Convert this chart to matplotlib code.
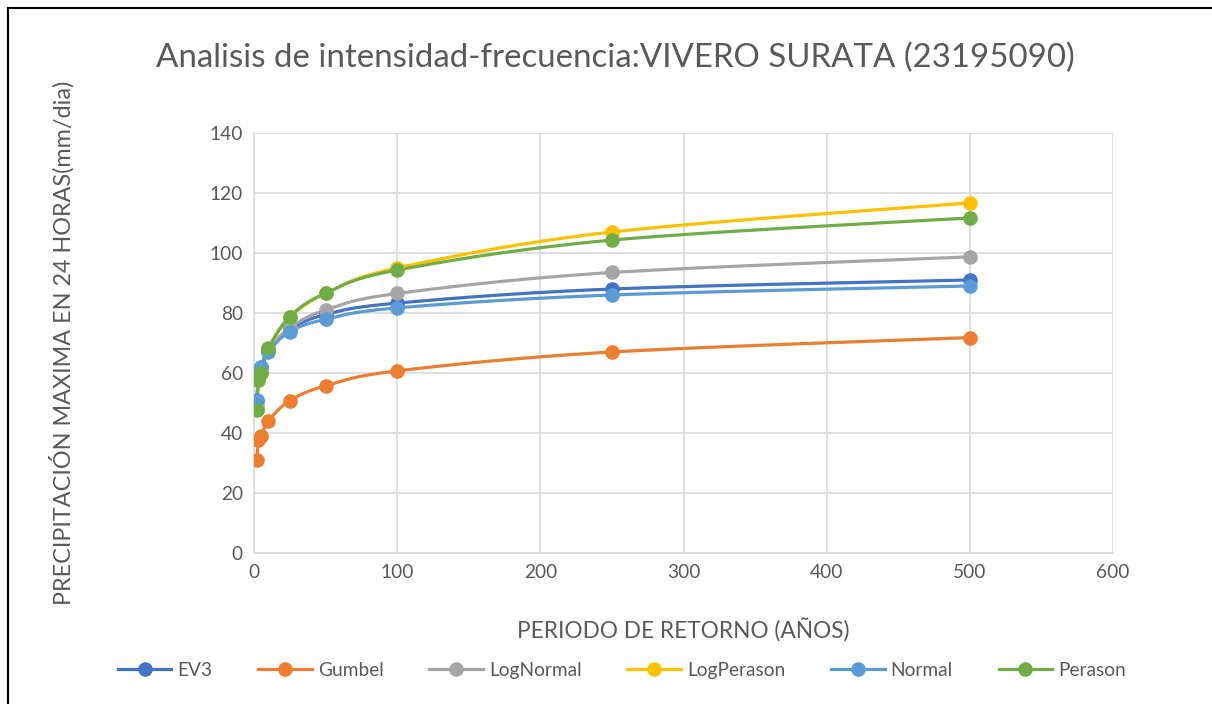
import numpy as np
import matplotlib
matplotlib.use('Agg')
import matplotlib.pyplot as plt
from matplotlib.lines import Line2D

plt.rcParams['font.family'] = ['Lato', 'DejaVu Sans']

# periodos de retorno (años)
T = [2, 3, 5, 10, 25, 50, 100, 250, 500]

ev3 = [50.5, 58.5, 62.0, 67.5, 74.5, 79.5, 83.3, 88.0, 91.0]
gumbel = [31.0, 37.5, 39.0, 44.0, 50.8, 55.7, 60.7, 67.0, 71.8]
lognormal = [49.0, 57.5, 60.0, 67.5, 75.0, 81.0, 86.5, 93.5, 98.7]
logperason = [48.0, 57.5, 60.0, 68.0, 78.5, 86.5, 95.0, 107.0, 116.7]
normal = [51.0, 59.0, 61.9, 67.0, 73.8, 77.9, 81.7, 86.0, 89.0]
perason = [47.7, 57.5, 60.0, 68.2, 78.8, 86.6, 94.3, 104.3, 111.7]

series = [('EV3', ev3, '#4472C4'), ('Gumbel', gumbel, '#ED7D31'),
          ('LogNormal', lognormal, '#A5A5A5'), ('LogPerason', logperason, '#FFC000'),
          ('Normal', normal, '#5B9BD5'), ('Perason', perason, '#70AD47')]


def suavizar(x, y, n=30):
    # curva tipo Excel (catmull-rom) en coordenadas normalizadas
    sx, sy = 600.0 / 859.0, 140.0 / 420.0
    px = np.asarray(x, float) / sx
    py = np.asarray(y, float) / sy
    P = np.column_stack([px, py])
    P = np.vstack([P[0], P, P[-1]])
    out = []
    t = np.linspace(0, 1, n)
    for i in range(1, len(P) - 2):
        p0, p1, p2, p3 = P[i - 1], P[i], P[i + 1], P[i + 2]
        c1 = p1 + (p2 - p0) / 6
        c2 = p2 - (p3 - p1) / 6
        seg = ((1 - t) ** 3)[:, None] * p1 + (3 * (1 - t) ** 2 * t)[:, None] * c1 \
            + (3 * (1 - t) * t ** 2)[:, None] * c2 + (t ** 3)[:, None] * p2
        out.append(seg)
    out = np.vstack(out)
    return out[:, 0] * sx, out[:, 1] * sy


fig = plt.figure(figsize=(12.12, 7.04), dpi=100)
ax = fig.add_axes([0.2096, 0.2145, 0.7087, 0.5966])

for nombre, vals, col in series:
    xs, ys = suavizar(T, vals)
    ax.plot(xs, ys, color=col, lw=2.3, zorder=3)
    ax.plot(T, vals, 'o', color=col, ms=9.5, zorder=4)

ax.set_xlim(0, 600)
ax.set_ylim(0, 140)
ax.set_xticks(range(0, 601, 100))
ax.set_yticks(range(0, 141, 20))
ax.grid(True, color='#D9D9D9', lw=1.2)
ax.set_axisbelow(True)
for s in ['top', 'right']:
    ax.spines[s].set_visible(False)
ax.spines['left'].set_color('#D9D9D9')
ax.spines['bottom'].set_color('#D9D9D9')
ax.spines['left'].set_linewidth(1.2)
ax.spines['bottom'].set_linewidth(1.2)
ax.tick_params(length=0, labelsize=13.8, colors='#595959', pad=8)

fig.text(0.508, 0.918, 'Analisis de intensidad-frecuencia:VIVERO SURATA (23195090)',
         ha='center', va='center', fontsize=23.8, color='#595959')
fig.text(0.051, 0.513, 'PRECIPITACIÓN MAXIMA EN 24 HORAS(mm/dia)', rotation=90,
         ha='center', va='center', fontsize=16.8, color='#595959')
fig.text(0.564, 0.104, 'PERIODO DE RETORNO (AÑOS)', ha='center', va='center',
         fontsize=16.3, color='#595959')

handles = [Line2D([], [], color=c, lw=2.3, marker='o', ms=9.5) for _, _, c in series]
fig.legend(handles, [s[0] for s in series], loc='center', bbox_to_anchor=(0.513, 0.048),
           ncol=6, frameon=False, fontsize=13.8, labelcolor='#595959',
           handlelength=2.8, columnspacing=2.4, handletextpad=0.3)

# marco del gráfico
fig.add_artist(Line2D([0.0066, 0.0066], [0, 0.988], color='black', lw=1.5,
                      transform=fig.transFigure))
fig.add_artist(Line2D([0.0066, 1], [0.988, 0.988], color='black', lw=1.5,
                      transform=fig.transFigure))

plt.savefig('out.png', dpi=100)
plt.close()
